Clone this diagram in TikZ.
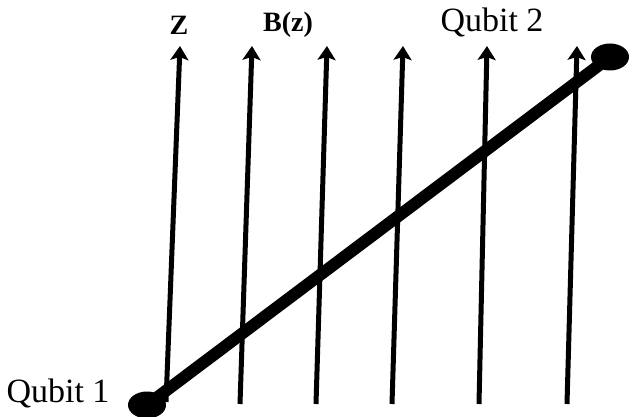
\documentclass[tikz,border=0pt]{standalone}
\usepackage{fontspec}
\setmainfont{Liberation Serif}
\usetikzlibrary{arrows.meta,shapes.geometric}
\begin{document}
\begin{tikzpicture}[x=1pt,y=-1pt,
  field/.style={line width=5pt,-{Stealth[length=14pt,width=18pt,inset=3pt]}},
  blob/.style={ellipse,fill=black,inner sep=0pt,minimum width=38pt,minimum height=27pt},
  bond/.style={line width=12pt},
  qlabel/.style={font=\fontsize{34}{36}\selectfont,inner sep=0pt},
  flabel/.style={font=\fontsize{28}{30}\selectfont\bfseries,inner sep=0pt}]
\useasboundingbox (0,0) rectangle (633,417);
\coordinate (b1) at (166,402); \coordinate (t1) at (180,46);
\coordinate (b2) at (240,404); \coordinate (t2) at (252,46);
\coordinate (b3) at (316,404); \coordinate (t3) at (327,46);
\coordinate (b4) at (392,404); \coordinate (t4) at (403,46);
\coordinate (b5) at (479,404); \coordinate (t5) at (487,46);
\coordinate (b6) at (567,404); \coordinate (t6) at (577,46);
\foreach \i in {1,...,6} \draw[field] (b\i) -- (t\i);
\node[blob] (q1) at (147,405) {};
\node[blob] (q2) at (610,57) {};
\draw[bond] (q1.center) -- (q2.center);
\node[flabel] (z) at (179,25) {Z};
\node[flabel] (bz) at (288,25) {B(z)};
\node[qlabel] (l2) at (492,22) {Qubit 2};
\node[qlabel] (l1) at (58,393) {Qubit 1};
\end{tikzpicture}
\end{document}
